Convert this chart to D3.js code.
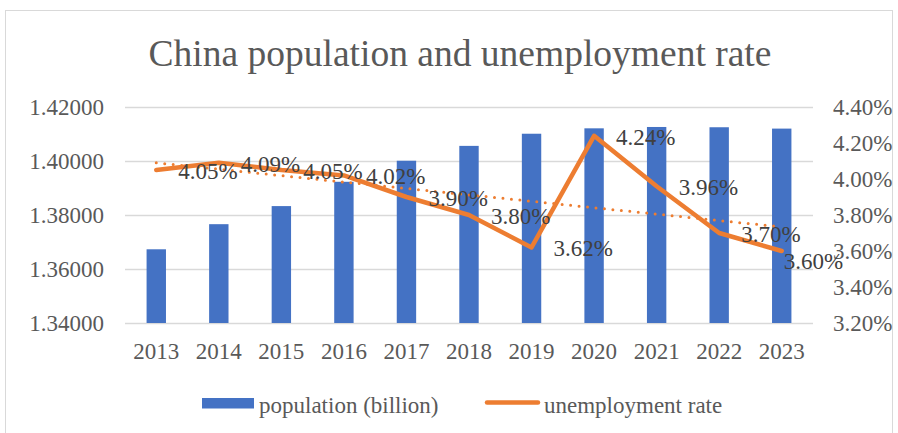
<!DOCTYPE html>
<html>
<head>
<meta charset="utf-8">
<script src="https://cdn.jsdelivr.net/npm/d3@7"></script>
<style>
  body { margin: 0; background: #fff; }
  text { font-family: "Liberation Serif", "Times New Roman", serif; }
</style>
</head>
<body>
<div id="chart"></div>
<script>
const years = ["2013", "2014", "2015", "2016", "2017", "2018", "2019", "2020", "2021", "2022", "2023"];
const population = [1.3673, 1.3766, 1.3833, 1.3923, 1.4001, 1.4056, 1.4101, 1.4121, 1.4126, 1.4125, 1.4120];
const unemployment = [4.05, 4.09, 4.05, 4.02, 3.90, 3.80, 3.62, 4.24, 3.96, 3.70, 3.60];
const leftTicks = [1.34, 1.36, 1.38, 1.40, 1.42];
const rightTicks = [3.2, 3.4, 3.6, 3.8, 4.0, 4.2, 4.4];

const width = 898;
const height = 433;
const margin = { top: 107, right: 85, bottom: 110, left: 125 };
const fontSize = "23px";

const svg = d3.select("#chart")
    .append("svg")
    .attr("width", width)
    .attr("height", height);

// chart frame
svg.append("rect")
    .attr("x", 5.5)
    .attr("y", 10.5)
    .attr("width", 887)
    .attr("height", 440)
    .attr("fill", "#fff")
    .attr("stroke", "#d9d9d9");

const x = d3.scaleBand()
    .domain(years)
    .range([margin.left, width - margin.right]);

const yLeft = d3.scaleLinear()
    .domain([1.34, 1.42])
    .range([height - margin.bottom, margin.top]);

const yRight = d3.scaleLinear()
    .domain([3.2, 4.4])
    .range([height - margin.bottom, margin.top]);

// gridlines
svg.append("g")
    .selectAll("line")
    .data(leftTicks)
    .enter().append("line")
    .attr("x1", margin.left)
    .attr("x2", width - margin.right)
    .attr("y1", d => Math.round(yLeft(d)) + 0.5)
    .attr("y2", d => Math.round(yLeft(d)) + 0.5)
    .attr("stroke", "#d9d9d9")
    .attr("stroke-width", 1.3);

// left axis labels
svg.append("g")
    .selectAll("text")
    .data(leftTicks)
    .enter().append("text")
    .attr("x", 104)
    .attr("y", d => yLeft(d) + 7.5)
    .attr("text-anchor", "end")
    .attr("fill", "#595959")
    .style("font-size", fontSize)
    .text(d => d3.format(".5f")(d));

// right axis labels
svg.append("g")
    .selectAll("text")
    .data(rightTicks)
    .enter().append("text")
    .attr("x", 833)
    .attr("y", d => yRight(d) + 7.5)
    .attr("text-anchor", "start")
    .attr("fill", "#595959")
    .style("font-size", fontSize)
    .text(d => d3.format(".2f")(d) + "%");

// category labels
svg.append("g")
    .selectAll("text")
    .data(years)
    .enter().append("text")
    .attr("x", d => x(d) + x.bandwidth() / 2)
    .attr("y", 359)
    .attr("text-anchor", "middle")
    .attr("fill", "#595959")
    .style("font-size", fontSize)
    .text(d => d);

// bars
const barW = x.bandwidth() * 0.31;
svg.append("g")
    .selectAll("rect")
    .data(population)
    .enter().append("rect")
    .attr("x", (d, i) => x(years[i]) + x.bandwidth() / 2 - barW / 2)
    .attr("y", d => yLeft(d))
    .attr("width", barW)
    .attr("height", d => yLeft(1.34) - yLeft(d))
    .attr("fill", "#4472c4");

// linear trendline for unemployment rate
const n = unemployment.length;
const mx = d3.mean(unemployment, (d, i) => i);
const my = d3.mean(unemployment);
const slope = d3.sum(unemployment, (d, i) => (i - mx) * (d - my)) / d3.sum(unemployment, (d, i) => (i - mx) * (i - mx));
const intercept = my - slope * mx;
const cx = i => x(years[i]) + x.bandwidth() / 2;

svg.append("line")
    .attr("x1", cx(0))
    .attr("y1", yRight(intercept))
    .attr("x2", cx(n - 1))
    .attr("y2", yRight(intercept + slope * (n - 1)))
    .attr("stroke", "#ed7d31")
    .attr("stroke-width", 3)
    .attr("stroke-linecap", "round")
    .attr("stroke-dasharray", "0 8.5");

// unemployment line
const line = d3.line()
    .x((d, i) => cx(i))
    .y(d => yRight(d));

svg.append("path")
    .datum(unemployment)
    .attr("d", line)
    .attr("fill", "none")
    .attr("stroke", "#ed7d31")
    .attr("stroke-width", 4.5)
    .attr("stroke-linejoin", "round")
    .attr("stroke-linecap", "round");

// data labels
svg.append("g")
    .selectAll("text")
    .data(unemployment)
    .enter().append("text")
    .attr("x", (d, i) => cx(i) + (i === n - 1 ? 2 : 22))
    .attr("y", (d, i) => yRight(d) + (i === n - 1 ? 18 : 9))
    .attr("fill", "#404040")
    .style("font-size", fontSize)
    .text(d => d3.format(".2f")(d) + "%");

// title
svg.append("text")
    .attr("x", 460)
    .attr("y", 66)
    .attr("text-anchor", "middle")
    .attr("fill", "#595959")
    .style("font-size", "37.5px")
    .text("China population and unemployment rate");

// legend
const legend = svg.append("g");
legend.append("rect")
    .attr("x", 202)
    .attr("y", 398)
    .attr("width", 52)
    .attr("height", 10.5)
    .attr("fill", "#4472c4");
legend.append("text")
    .attr("x", 259)
    .attr("y", 413)
    .attr("fill", "#595959")
    .style("font-size", fontSize)
    .text("population (billion)");
legend.append("line")
    .attr("x1", 487)
    .attr("x2", 538)
    .attr("y1", 402.5)
    .attr("y2", 402.5)
    .attr("stroke", "#ed7d31")
    .attr("stroke-width", 4.5)
    .attr("stroke-linecap", "round");
legend.append("text")
    .attr("x", 544)
    .attr("y", 413)
    .attr("fill", "#595959")
    .style("font-size", fontSize)
    .text("unemployment rate");
</script>
</body>
</html>
